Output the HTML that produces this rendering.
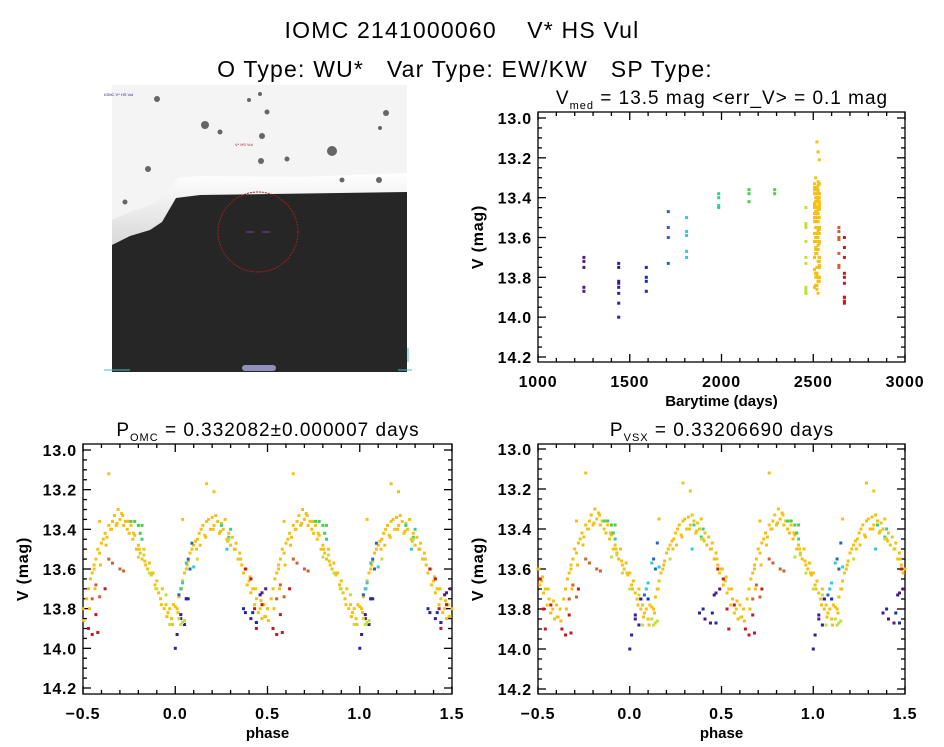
<!DOCTYPE html>
<html><head><meta charset="utf-8"><style>
html,body{margin:0;padding:0;background:#fff;}
svg{display:block;font-family:"Liberation Sans",sans-serif;}
</style></head><body>
<svg id="fig" width="944" height="747" viewBox="0 0 944 747" xmlns="http://www.w3.org/2000/svg">
<rect width="944" height="747" fill="#fff"/>
<text x="462" y="38" font-size="23" letter-spacing="1.2" text-anchor="middle" xml:space="preserve">IOMC 2141000060    V* HS Vul</text>
<text x="465" y="77" font-size="23" letter-spacing="1.2" text-anchor="middle" xml:space="preserve">O Type: WU*   Var Type: EW/KW   SP Type:</text>
<g>
  <defs>
    <linearGradient id="edge" x1="0" y1="0" x2="0" y2="1">
      <stop offset="0" stop-color="#fff"/><stop offset="0.45" stop-color="#cfcfcf"/><stop offset="1" stop-color="#2a2a2a"/>
    </linearGradient>
  </defs>
  <rect x="112" y="85" width="295" height="287" fill="#f4f4f4"/>
  <polygon points="112,220 135,210 150,205 165,195 178,178 200,176 300,177 350,175 380,174 407,173 407,372 112,372" fill="url(#edge)"/>
  <polygon points="112,245 130,236 150,230 162,222 176,198 200,195 407,192 407,372 112,372" fill="#262626"/>
  <g fill="#666">
    <circle cx="205" cy="125" r="4"/><circle cx="157" cy="99" r="3"/><circle cx="249" cy="100" r="2"/><circle cx="260" cy="94" r="2"/>
    <circle cx="267" cy="112" r="2.5"/><circle cx="220" cy="132" r="2.5"/><circle cx="262" cy="136" r="3"/><circle cx="332" cy="151" r="5"/>
    <circle cx="386" cy="113" r="3"/><circle cx="261" cy="161" r="3"/><circle cx="287" cy="159" r="2.5"/><circle cx="148" cy="169" r="3"/>
    <circle cx="342" cy="180" r="2.5"/><circle cx="379" cy="180" r="3"/><circle cx="125" cy="202" r="2.5"/><circle cx="380" cy="128" r="2"/>
  </g>
  <text x="104" y="96" font-size="4" fill="#1a1a8a">IOMC V* HS Vul</text>
  <text x="235" y="146" font-size="4" fill="#8a1a1a">V* HS Vul</text>
  <circle cx="258" cy="232" r="40" fill="none" stroke="#a02020" stroke-width="1" stroke-dasharray="2,1"/>
  <line x1="246" y1="232" x2="254" y2="232" stroke="#8040a0"/><line x1="262" y1="232" x2="270" y2="232" stroke="#8040a0"/>
  <rect x="242" y="365" width="34" height="6" rx="3" fill="#9090c0"/>
  <path d="M398,370 L412,370 M408,348 L408,362" stroke="#40c0c0" fill="none"/>
  <path d="M104,370 L130,370" stroke="#40c0c0" fill="none"/>
</g>
<g id="plots"></g>
</svg>
<script>
// ---- data ----
const groupNames = ["purple","indigo","blue","blue2","cyan","teal","green","green2","yellowgreen","yellow","orangered","red"];
const groupColors = ["#5a1a7a","#3a1a9a","#1030b0","#2068c8","#30c8e0","#30d090","#40d050","#50d040","#c0e040","#f5c010","#d06030","#c81818"];
const groupTimes = [1250,1440,1590,1710,1810,1985,2150,2290,2460,2520,2640,2670];
const groupVsxShift = [0.0,0.0,0.03,0.06,0.06,0.1,0.1,0.1,0.1,0.12,0.12,0.1];
const groupMags = [
 [13.70,13.72,13.75,13.85,13.87],
 [13.73,13.75,13.82,13.83,13.85,13.88,13.93,14.00],
 [13.75,13.80,13.82,13.87],
 [13.47,13.55,13.60,13.73],
 [13.50,13.57,13.59,13.67,13.70],
 [13.38,13.40,13.44,13.45],
 [13.36,13.38,13.42],
 [13.36,13.38],
 [13.87,13.88,13.86,13.88,13.54,13.53,13.45,13.73,13.70,13.55,13.62,13.85],
 [13.45,13.42,13.40,13.38,13.43,13.36,13.35,13.40,13.34,13.38,13.33,13.36,13.42,13.37,13.40,13.35,13.45,13.42,13.48,
  13.44,13.50,13.47,13.55,13.52,13.58,13.62,13.60,13.68,13.66,13.72,13.70,13.78,13.75,13.82,13.80,13.85,13.78,13.84,13.80,
  13.75,13.70,13.65,13.62,13.58,13.55,13.50,13.52,13.47,13.45,13.42,13.44,13.38,13.40,13.36,13.33,13.38,13.30,13.35,13.32,13.38,13.36,13.40,13.42,
  13.38,13.45,13.43,13.50,13.48,13.52,13.55,13.50,13.58,13.60,13.57,13.63,13.62,13.68,13.66,13.72,13.75,13.70,13.80,13.78,13.82,13.80,13.85,13.78,13.79,13.80,
  13.74,13.70,13.66,13.62,13.60,13.56,13.52,13.50,13.48,13.46,
  13.50,13.48,13.44,13.40,13.41,13.46,13.50,13.55,13.60,13.64,13.70,13.76,13.84,13.86,13.80,13.70,13.58,13.48,13.40,13.37,13.33,13.36,13.42,13.50,13.56,13.62,13.70,13.78,13.84,13.88,13.82,13.70,13.58,
  13.12,13.17,13.21,13.35,13.60,13.36],
 [13.55,13.57,13.60,13.61,13.68,13.75,13.74],
 [13.93,13.92,13.90,13.83,13.80,13.60,13.65,13.70,13.78,13.90]
];
const groupPhases = [
 [0.49,0.47,0.06,0.03,0.44],
 [0.46,0.06,0.38,0.03,0.41,0.05,0.01,0.00],
 [0.07,0.37,0.42,0.44],
 [0.09,0.07,0.08,0.02],
 [0.28,0.06,0.10,0.04,0.03],
 [0.25,0.30,0.29,0.82],
 [0.78,0.80,0.81],
 [0.76,0.82],
 [0.04,0.03,0.05,0.97,0.80,0.83,0.29,0.95,0.90,0.12,0.86,0.02],
 [0.12,0.13,0.14,0.15,0.16,0.17,0.18,0.19,0.20,0.21,0.22,0.23,0.24,0.25,0.26,0.27,0.28,0.29,0.30,
  0.31,0.32,0.33,0.34,0.35,0.36,0.37,0.38,0.39,0.40,0.41,0.42,0.43,0.44,0.45,0.46,0.47,0.48,0.49,0.50,
  0.52,0.53,0.54,0.55,0.56,0.57,0.58,0.59,0.60,0.61,0.62,0.63,0.64,0.65,0.66,0.67,0.68,0.69,0.70,0.71,0.72,0.73,0.74,0.75,
  0.76,0.77,0.78,0.79,0.80,0.81,0.82,0.83,0.84,0.85,0.86,0.87,0.88,0.89,0.90,0.91,0.92,0.93,0.94,0.95,0.96,0.97,0.98,0.99,0.00,0.01,
  0.02,0.03,0.04,0.05,0.06,0.07,0.08,0.09,0.10,0.11,
  0.115,0.135,0.165,0.205,0.245,0.285,0.325,0.355,0.385,0.405,0.435,0.465,0.485,0.505,0.535,0.565,0.595,0.625,0.655,0.685,0.715,0.745,0.775,0.805,0.835,0.865,0.895,0.925,0.955,0.985,0.015,0.035,0.065,
  0.64,0.17,0.21,0.04,0.56,0.59],
 [0.64,0.66,0.70,0.72,0.57,0.55,0.59],
 [0.55,0.58,0.53,0.57,0.43,0.38,0.41,0.62,0.47,0.44]
];
const magTicks = [13.0,13.2,13.4,13.6,13.8,14.0,14.2];
const timeTicks = [1000,1500,2000,2500,3000];
const phaseTicks = [-0.5,0.0,0.5,1.0,1.5];

// ---- drawing ----
const NS = "http://www.w3.org/2000/svg";
const root = document.getElementById('plots');
function el(tag, attrs, parent) {
  const e = document.createElementNS(NS, tag);
  for (const k in attrs) e.setAttribute(k, attrs[k]);
  (parent || root).appendChild(e);
  return e;
}
function makeScale(d0, d1, r0, r1) { return v => r0 + (v - d0) / (d1 - d0) * (r1 - r0); }

function axes(g, box, xs, ys, xTicks, xFmt, xMinorStep, xTitle, yTitle, title) {
  const fr = el('rect', {x: box.x0, y: box.y0, width: box.x1 - box.x0, height: box.y1 - box.y0, fill: 'none', stroke: '#000', 'stroke-width': 1.3}, g);
  
  
  const xa = xTicks[0], xb = xTicks[xTicks.length - 1];
  for (let v = xa; v <= xb + 1e-9; v += xMinorStep) {
    const X = xs(v);
    const major = xTicks.some(t => Math.abs(t - v) < 1e-6);
    const L = major ? 8 : 4;
    el('line', {x1: X, y1: box.y1, x2: X, y2: box.y1 - L, stroke: '#000', 'stroke-width': 1.3}, g);
    el('line', {x1: X, y1: box.y0, x2: X, y2: box.y0 + L, stroke: '#000', 'stroke-width': 1.3}, g);
  }
  for (let v = 13.0; v <= 14.2 + 1e-9; v += 0.05) {
    const Y = ys(v);
    const major = magTicks.some(t => Math.abs(t - v) < 1e-6);
    const L = major ? 8 : 4;
    el('line', {x1: box.x0, y1: Y, x2: box.x0 + L, y2: Y, stroke: '#000', 'stroke-width': 1.3}, g);
    el('line', {x1: box.x1, y1: Y, x2: box.x1 - L, y2: Y, stroke: '#000', 'stroke-width': 1.3}, g);
  }
  xTicks.forEach(t => {
    const tx = el('text', {x: xs(t), y: box.y1 + 25, 'font-size': 16, 'font-weight': 'bold', 'letter-spacing': 0.8, 'text-anchor': 'middle'}, g);
    tx.textContent = xFmt(t);
    
    
  });
  magTicks.forEach(t => {
    const ty = el('text', {x: box.x0 - 6, y: ys(t) + 6, 'font-size': 16, 'font-weight': 'bold', 'letter-spacing': 0.8, 'text-anchor': 'end'}, g);
    ty.textContent = t.toFixed(1);
    
    
  });
  const xt = el('text', {x: (box.x0 + box.x1) / 2, y: box.y1 + 44, 'font-size': 15, 'font-weight': 'bold', 'text-anchor': 'middle'}, g);
  xt.textContent = xTitle;
  
  
  const cy = (box.y0 + box.y1) / 2;
  const yt = el('text', {x: box.x0 - 55, y: cy, 'font-size': 16, 'font-weight': 'bold', 'letter-spacing': 0.8, 'text-anchor': 'middle', transform: `rotate(-90 ${box.x0 - 55} ${cy})`}, g);
  yt.textContent = yTitle;
  
  
  const tt = el('text', {x: title.x, y: box.y0 - 8, 'font-size': 19, 'letter-spacing': 1, 'text-anchor': 'middle'}, g);
  
  
  title.parts.forEach(p => {
    const ts = el('tspan', p.sub ? {'font-size': 11, dy: 5} : (p.after ? {dy: -5} : {}), tt);
    ts.textContent = p.t;
  });
}
function dot(g, X, Y, color) {
  const r = el('rect', {x: (X - 1.5).toFixed(1), y: (Y - 1.5).toFixed(1), width: 3, height: 3, fill: color}, g);
  
  
}

// Time plot
(function () {
  const box = {x0: 538, x1: 905, y0: 112, y1: 362};
  const xs = makeScale(1000, 3000, box.x0, box.x1);
  const ys = makeScale(13.0, 14.2, 118, 357);
  const g = el('g', {});
  
  
  axes(g, box, xs, ys, timeTicks, t => String(t), 100, 'Barytime (days)', 'V (mag)',
    {x: 722, parts: [{t: 'V'}, {t: 'med', sub: true}, {t: ' = 13.5 mag <err_V> = 0.1 mag', after: true}]});
  groupMags.forEach((mags, gi) => {
    mags.forEach((m, i) => {
      const spread = mags.length > 20 ? ((i % 5) - 2) * 1.2 : 0;
      dot(g, xs(groupTimes[gi]) + spread, ys(m), groupColors[gi]);
    });
  });
})();

// Phase plots
function phasePlot(box, yTop, yBot, useVsx, title, name) {
  const xs = makeScale(-0.5, 1.5, box.x0, box.x1);
  const ys = makeScale(13.0, 14.2, yTop, yBot);
  const g = el('g', {});
  
  
  axes(g, box, xs, ys, phaseTicks, t => t.toFixed(1).replace('-', '\u2212'), 0.1, 'phase', 'V (mag)', title);
  const order = [9, 0, 1, 2, 3, 4, 5, 6, 7, 8, 10, 11];
  order.forEach(gi => {
    groupMags[gi].forEach((m, i) => {
      let p = groupPhases[gi][i] + (useVsx ? groupVsxShift[gi] : 0);
      p = p - Math.floor(p);
      [p - 1, p, p + 1].forEach(pp => {
        if (pp >= -0.5 && pp <= 1.5) dot(g, xs(pp), ys(m), groupColors[gi]);
      });
    });
  });
}
phasePlot({x0: 83, x1: 452, y0: 444, y1: 694}, 450, 688, false,
  {x: 268, parts: [{t: 'P'}, {t: 'OMC', sub: true}, {t: ' = 0.332082\u00b10.000007 days', after: true}]}, 'phase-plot-omc');
phasePlot({x0: 538, x1: 905, y0: 444, y1: 694}, 449, 689, true,
  {x: 722, parts: [{t: 'P'}, {t: 'VSX', sub: true}, {t: ' = 0.33206690 days', after: true}]}, 'phase-plot-vsx');
</script>
</body></html>
